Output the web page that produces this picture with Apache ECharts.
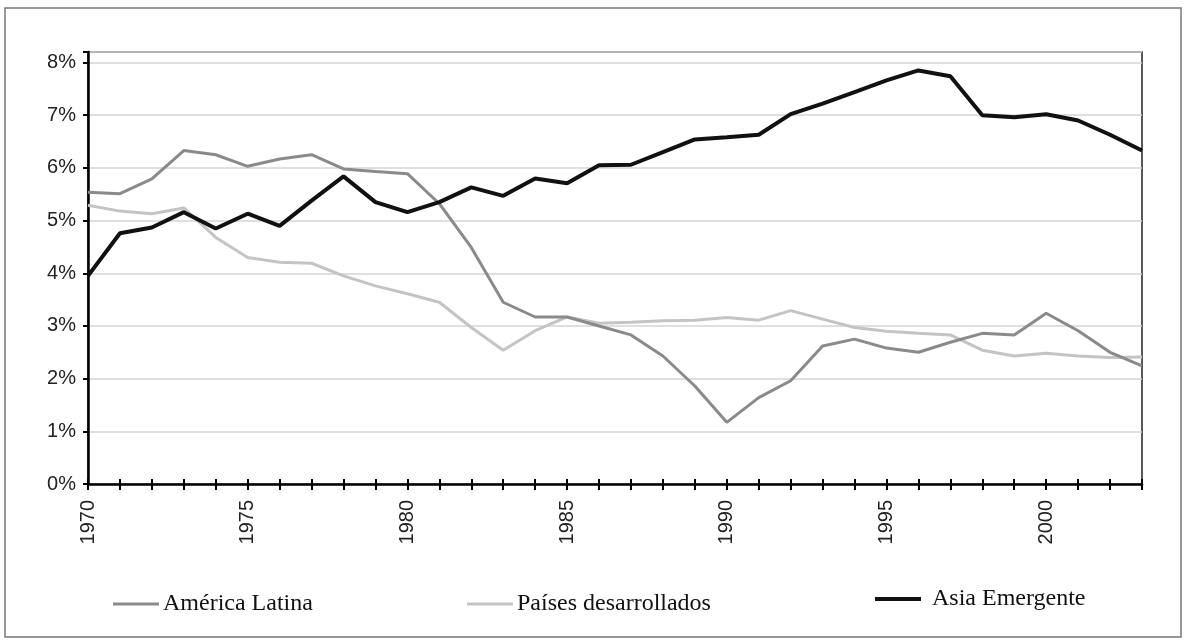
<!DOCTYPE html>
<html>
<head>
<meta charset="utf-8">
<script src="https://cdn.jsdelivr.net/npm/echarts@6/dist/echarts.min.js"></script>
<style>
  html, body { margin: 0; padding: 0; background: #fff; }
  #chart { width: 1184px; height: 640px; }
</style>
</head>
<body>
<div id="chart"></div>
<script>
// años del eje x
const years = ['1970', '1971', '1972', '1973', '1974', '1975', '1976', '1977', '1978', '1979',
  '1980', '1981', '1982', '1983', '1984', '1985', '1986', '1987', '1988', '1989',
  '1990', '1991', '1992', '1993', '1994', '1995', '1996', '1997', '1998', '1999',
  '2000', '2001', '2002', '2003']

// valores en %
const americaLatina = [5.54, 5.51, 5.79, 6.33, 6.25, 6.03, 6.17, 6.25, 5.98, 5.93,
  5.89, 5.32, 4.49, 3.45, 3.17, 3.17, 3.00, 2.83, 2.43, 1.86,
  1.17, 1.64, 1.96, 2.62, 2.75, 2.58, 2.50, 2.69, 2.86, 2.83,
  3.24, 2.91, 2.50, 2.24]

const paisesDesarrollados = [5.29, 5.18, 5.13, 5.24, 4.68, 4.30, 4.21, 4.19, 3.95, 3.76,
  3.61, 3.45, 2.97, 2.54, 2.91, 3.17, 3.05, 3.07, 3.10, 3.11,
  3.16, 3.11, 3.29, 3.13, 2.97, 2.90, 2.86, 2.83, 2.54, 2.43,
  2.48, 2.43, 2.40, 2.41]

const asiaEmergente = [3.95, 4.76, 4.87, 5.16, 4.85, 5.13, 4.90, 5.38, 5.84, 5.35,
  5.16, 5.35, 5.63, 5.47, 5.80, 5.71, 6.05, 6.06, 6.30, 6.54,
  6.58, 6.63, 7.02, 7.22, 7.44, 7.66, 7.85, 7.74, 7.00, 6.96,
  7.02, 6.90, 6.63, 6.33]

const yTicks = [0, 1, 2, 3, 4, 5, 6, 7, 8]

let chart = echarts.init(document.getElementById('chart'))

const axisFont = 'Liberation Sans, Arial, sans-serif'
const legendFont = 'Liberation Serif, Times New Roman, serif'

function legendBox (name, left, top, lineH, textPad) {
  return {
    data: [{ name: name, icon: 'rect' }],
    left: left,
    top: top,
    padding: 0,
    itemWidth: 46,
    itemHeight: lineH,
    itemGap: 0,
    textStyle: { fontFamily: legendFont, fontSize: 24, color: '#111', padding: textPad },
    selectedMode: false
  }
}

chart.setOption({
  animation: false,
  backgroundColor: '#fff',
  graphic: [
    {
      type: 'rect',
      shape: { x: 5, y: 8, width: 1176, height: 629 },
      style: { fill: 'none', stroke: '#777', lineWidth: 1.5 },
      silent: true
    }
  ],
  grid: {
    left: 88,
    right: 42,
    top: 52,
    bottom: 156,
    show: true,
    borderColor: '#222',
    borderWidth: 1.5
  },
  legend: [
    legendBox('América Latina', 113, 592, 3, [0, 0, 0, -1]),
    legendBox('Países desarrollados', 467, 592, 3, [0, 0, 0, -1]),
    legendBox('Asia Emergente', 875, 587, 4, [0, 0, 10, 6])
  ],
  xAxis: [
    {
      type: 'category',
      data: years,
      boundaryGap: false,
      axisLine: { lineStyle: { color: '#000', width: 2.5 } },
      axisTick: { show: true, interval: 0, length: 6, lineStyle: { color: '#000', width: 2 } },
      axisLabel: {
        interval: 4,
        rotate: 90,
        margin: 16,
        fontFamily: axisFont,
        fontSize: 20,
        color: '#222'
      },
      splitLine: { show: false }
    },
    {
      type: 'category',
      data: years,
      boundaryGap: false,
      position: 'bottom',
      axisLine: { show: false },
      axisTick: { show: true, inside: true, interval: 0, length: 5, lineStyle: { color: '#000', width: 2 } },
      axisLabel: { show: false },
      splitLine: { show: false }
    }
  ],
  yAxis: {
    type: 'value',
    min: 0,
    max: 8.2,
    interval: 1,
    axisLine: { show: true, lineStyle: { color: '#000', width: 2.5 } },
    axisTick: { show: true, length: 5, lineStyle: { color: '#000', width: 2 } },
    axisLabel: {
      margin: 12,
      fontFamily: axisFont,
      fontSize: 20,
      color: '#222',
      formatter: function (value) {
        return yTicks.indexOf(value) >= 0 ? value + '%' : ''
      }
    },
    splitLine: {
      show: true,
      lineStyle: { color: '#d4d4d4', width: 1.5 }
    }
  },
  series: [
    {
      name: 'América Latina',
      type: 'line',
      data: americaLatina,
      showSymbol: false,
      itemStyle: { color: '#8a8a8a' },
      lineStyle: { color: '#8a8a8a', width: 3 },
      z: 3
    },
    {
      name: 'Países desarrollados',
      type: 'line',
      data: paisesDesarrollados,
      showSymbol: false,
      itemStyle: { color: '#c4c4c4' },
      lineStyle: { color: '#c4c4c4', width: 3 },
      z: 2
    },
    {
      name: 'Asia Emergente',
      type: 'line',
      data: asiaEmergente,
      showSymbol: false,
      itemStyle: { color: '#111' },
      lineStyle: { color: '#111', width: 4 },
      z: 4
    }
  ]
})

window.addEventListener('resize', function () {
  chart.resize()
})
</script>
</body>
</html>
